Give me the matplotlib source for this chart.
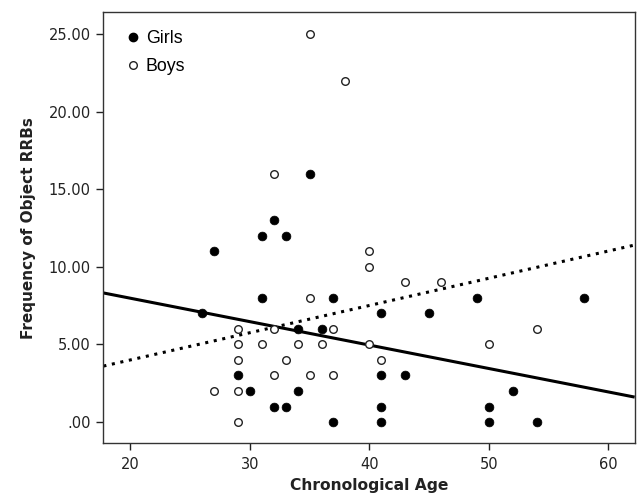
import matplotlib
matplotlib.use("Agg")
import matplotlib.pyplot as plt
from matplotlib.lines import Line2D
from matplotlib.ticker import FuncFormatter
import numpy as np

# Data
girls_age = [26, 27, 29, 30, 31, 31, 32, 32, 33, 33, 34, 34, 35, 36, 37, 37,
             41, 41, 41, 41, 43, 45, 49, 50, 50, 52, 54, 58]
girls_rrb = [7, 11, 3, 2, 12, 8, 13, 1, 12, 1, 6, 2, 16, 6, 8, 0,
             7, 3, 1, 0, 3, 7, 8, 1, 0, 2, 0, 8]
boys_age = [27, 29, 29, 29, 29, 29, 31, 32, 32, 32, 33, 34, 35, 35, 35, 36,
            37, 37, 38, 40, 40, 40, 41, 43, 46, 50, 54]
boys_rrb = [2, 6, 5, 4, 2, 0, 5, 16, 6, 3, 4, 5, 25, 8, 3, 5,
            6, 3, 22, 11, 10, 5, 4, 9, 9, 5, 6]
# Fit lines (intercept, slope) as shown in the chart
girls_fit = [11.0, -0.151]
boys_fit = [0.49, 0.1755]

x_ticks = [20, 30, 40, 50, 60]
y_ticks = [0, 5, 10, 15, 20, 25]

fig = plt.figure(figsize=(6.38, 4.98), dpi=100)
ax = fig.add_axes([0.162, 0.1098, 0.8328, 0.8655])

xmin, xmax = 17.75, 62.2
ymin, ymax = -1.37, 26.4
ax.set_xlim(xmin, xmax)
ax.set_ylim(ymin, ymax)

xx = np.array([xmin, xmax])
ax.plot(xx, girls_fit[0] + girls_fit[1] * xx, color="black", lw=2.2,
        solid_capstyle="butt", zorder=2)
ax.plot(xx, boys_fit[0] + boys_fit[1] * xx, color="black", lw=2.2,
        linestyle=(0, (1, 1.85)), zorder=2)

ax.scatter(girls_age, girls_rrb, s=40, color="black", edgecolors="black",
           linewidths=0.5, zorder=3)
ax.scatter(boys_age, boys_rrb, s=30, facecolors="white", edgecolors="#222222",
           linewidths=1.0, zorder=3)

ax.set_xticks(x_ticks)
ax.set_yticks(y_ticks)

def yfmt(v, pos):
    s = f"{v:.2f}"
    if s.startswith("0."):
        s = s[1:]
    return s

ax.yaxis.set_major_formatter(FuncFormatter(yfmt))
ax.tick_params(axis="both", direction="out", length=5, width=1,
               labelsize=10.5, color="#222222", labelcolor="#222222")
ax.tick_params(axis="x", pad=5)
ax.tick_params(axis="y", pad=4)
for sp in ax.spines.values():
    sp.set_linewidth(1.0)
    sp.set_color("#333333")

ax.set_xlabel("Chronological Age", fontsize=11.2, fontweight="bold",
              color="#222222", labelpad=4)
ax.set_ylabel("Frequency of Object RRBs", fontsize=11, fontweight="bold",
              color="#222222", labelpad=9)

handles = [
    Line2D([], [], marker="o", linestyle="none", color="black",
           markersize=6, label="Girls"),
    Line2D([], [], marker="o", linestyle="none", markerfacecolor="white",
           markeredgecolor="#222222", markeredgewidth=1.0, markersize=5.5,
           label="Boys"),
]
leg = ax.legend(handles=handles, loc="upper left", frameon=False,
                prop={"family": "Liberation Sans", "size": 12.8},
                handlelength=0.6, handletextpad=0.4, labelspacing=0.6,
                borderaxespad=0.0, bbox_to_anchor=(0.033, 0.975))

fig.savefig("out.png", dpi=100)
